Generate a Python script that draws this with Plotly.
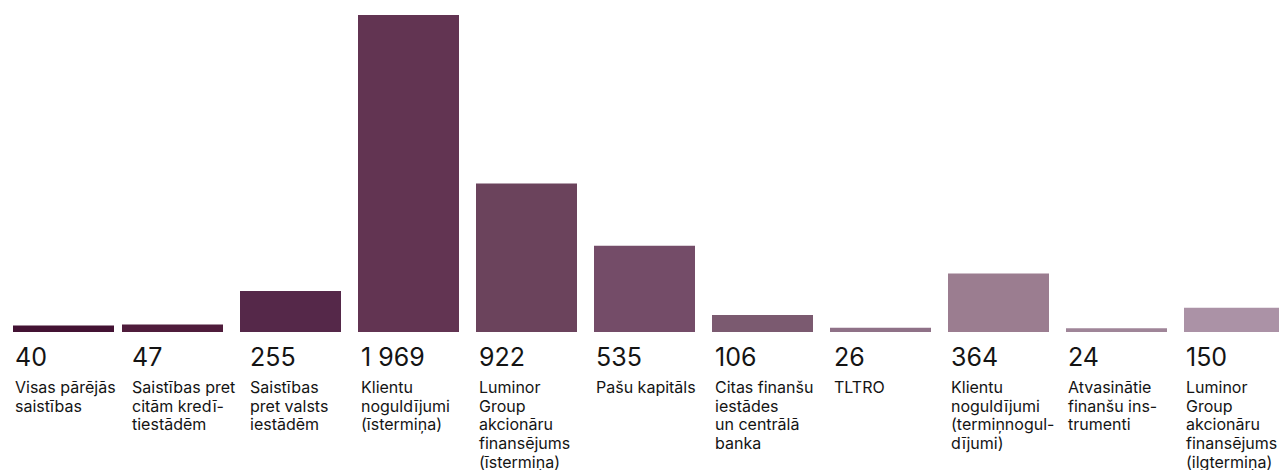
import plotly.graph_objects as go

categories = [
    "Visas pārējās<br>saistības",
    "Saistības pret<br>citām kredī-<br>tiestādēm",
    "Saistības<br>pret valsts<br>iestādēm",
    "Klientu<br>noguldījumi<br>(īstermiņa)",
    "Luminor<br>Group<br>akcionāru<br>finansējums<br>(īstermiņa)",
    "Pašu kapitāls",
    "Citas finanšu<br>iestādes<br>un centrālā<br>banka",
    "TLTRO",
    "Klientu<br>noguldījumi<br>(termiņnogul-<br>dījumi)",
    "Atvasinātie<br>finanšu ins-<br>trumenti",
    "Luminor<br>Group<br>akcionāru<br>finansējums<br>(ilgtermiņa)",
]
values = [40, 47, 255, 1969, 922, 535, 106, 26, 364, 24, 150]
colors = ["#431233", "#4f1c3b", "#552849", "#623452", "#6b435c", "#744c68",
          "#7b5a70", "#8f7187", "#9b7d90", "#9f8598", "#ab92a6"]

# layout / style parameters (pixels)
W, H = 1279, 470
slot_px = 118
bar_px = 101
bar_nudge_px = [9, 0, 0, 0, 0, 0, 0, 0, 0, 0, 0]
text_nudge_px = [9, 8, 8, 1, 1, 0, 1, 2, 1, 0, 0]
bar_w = bar_px / slot_px
offsets = [-bar_w / 2 + n / slot_px for n in bar_nudge_px]

xs = list(range(len(values)))
x0 = -(4 + bar_px / 2) / slot_px
x1 = x0 + W / slot_px

def fmt(v):
    return f"{v:,}".replace(",", " ")

fig = go.Figure(go.Bar(
    x=xs, y=values, width=bar_w, offset=offsets,
    marker=dict(color=colors, line=dict(width=0)),
    hoverinfo="skip",
))

font_family = "Inter, 'Noto Sans', sans-serif"
text_color = "#141414"
label_size = 16
line_px = 18.7
ann = []
for i, (v, c) in enumerate(zip(values, categories)):
    left = i - bar_w / 2
    ann.append(dict(x=left, y=0, xref="x", yref="paper", xanchor="left", yanchor="top",
                    text=fmt(v), showarrow=False, yshift=-8, xshift=text_nudge_px[i],
                    align="left",
                    font=dict(size=25, color=text_color, family=font_family)))
    for j, line in enumerate(c.split("<br>")):
        ann.append(dict(x=left, y=0, xref="x", yref="paper", xanchor="left", yanchor="top",
                        text=line, showarrow=False, yshift=-43 - j * line_px,
                        xshift=text_nudge_px[i], align="left",
                        font=dict(size=label_size, color=text_color, family=font_family)))

plot_h = 332
fig.update_layout(
    width=W, height=H,
    margin=dict(l=0, r=0, t=0, b=H - plot_h),
    plot_bgcolor="white", paper_bgcolor="white",
    showlegend=False,
    xaxis=dict(range=[x0, x1], visible=False, fixedrange=True),
    yaxis=dict(range=[0, max(values) * plot_h / 317], visible=False, fixedrange=True),
    annotations=ann,
)

fig.write_html(
    "out.html",
    config={"displayModeBar": False, "staticPlot": True},
    post_script="document.body.style.margin='0';document.documentElement.style.overflow='hidden';",
)
